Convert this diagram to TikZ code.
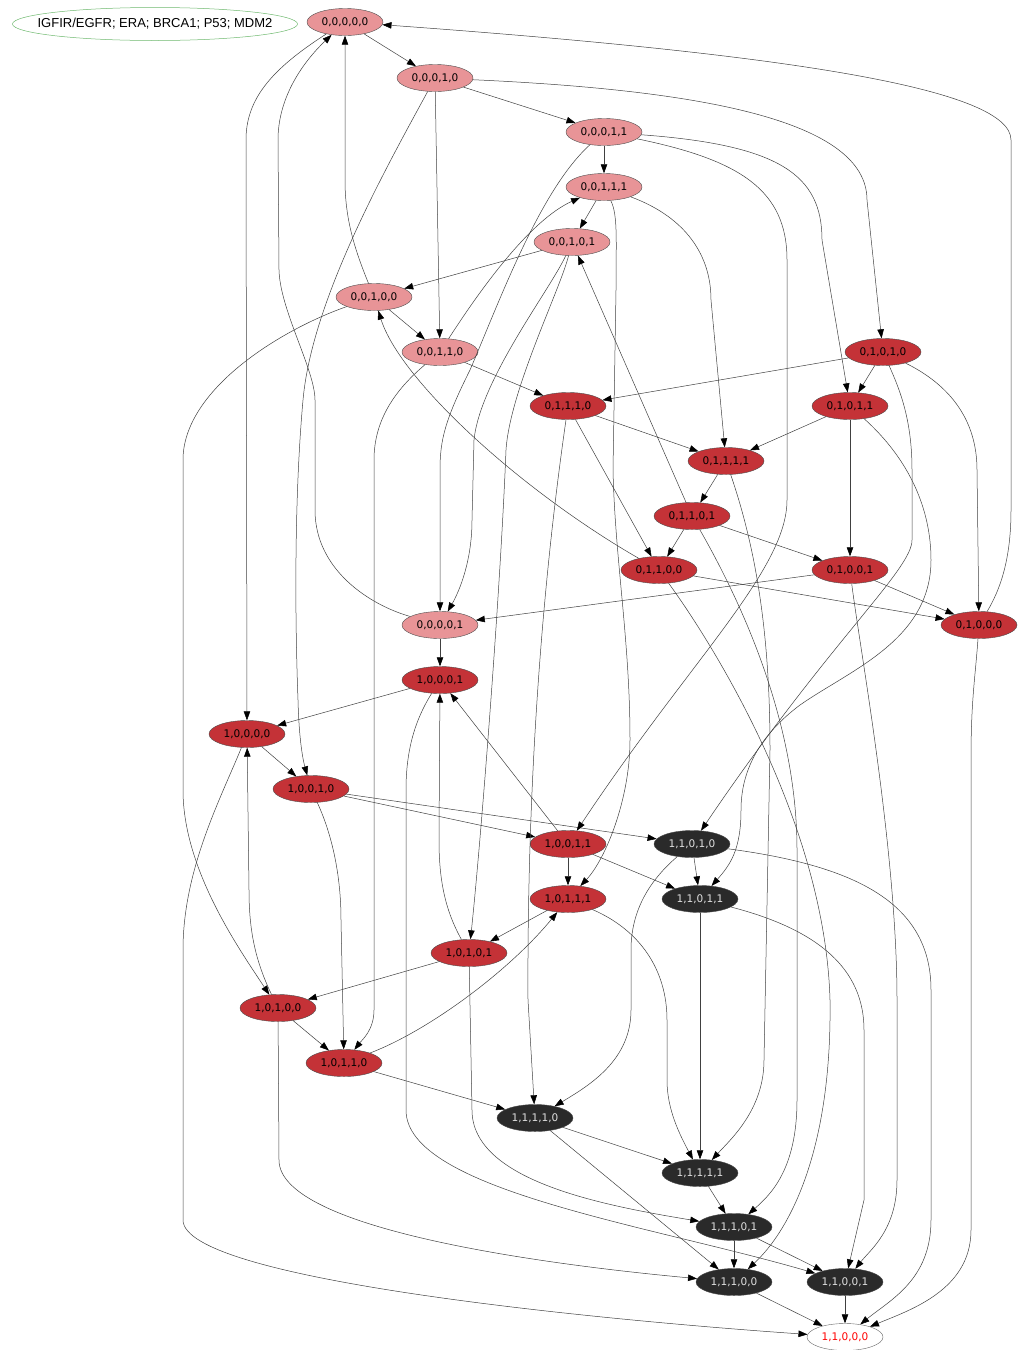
\documentclass[tikz,border=0pt]{standalone}
\usepackage{fontspec}
\setmainfont{DejaVu Sans}
\newfontfamily\keyfont{Liberation Sans}
\usepackage{tikz}
\usetikzlibrary{arrows.meta,shapes.geometric}

\definecolor{lowred}{RGB}{232,148,151}
\definecolor{midred}{RGB}{196,50,55}
\definecolor{offdark}{RGB}{42,42,42}
\definecolor{keygreen}{RGB}{110,185,110}

\begin{document}
\begin{tikzpicture}[
      x=1pt, y=-1pt,
      stnode/.style={
          ellipse, draw=black!70, line width=0.4pt,
          inner sep=0pt,
          minimum width=76pt,
          minimum height=27pt,
          font=\fontsize{10.5}{12}\selectfont
        },
      pk/.style={stnode, fill=lowred},
      rd/.style={stnode, fill=midred},
      dk/.style={stnode, fill=offdark, text=black!12},
      fin/.style={stnode, fill=white, draw=black!60, text=red},
      keynode/.style={ellipse, draw=keygreen, line width=0.5pt, inner sep=0pt,
          minimum width=285pt, minimum height=33pt,  % text box kept narrow below
          font=\keyfont\fontsize{13}{15}\selectfont},
      tr/.style={draw=black!75, line width=0.5pt,
          -{Triangle[length=9pt,width=6.5pt,color=black]}},
    ]
    \useasboundingbox (0,0) rectangle (1026,1350);

    \node[keynode] (key) at (155,24) {\makebox[0pt]{IGFIR/EGFR; ERA; BRCA1; P53; MDM2}};

    % states, top to bottom
    \node[pk] (s00000) at (345,22) {0,0,0,0,0};
    \node[pk] (s00010) at (435,78) {0,0,0,1,0};
    \node[pk] (s00011) at (604,132) {0,0,0,1,1};
    \node[pk] (s00111) at (604,187) {0,0,1,1,1};
    \node[pk] (s00101) at (572,242) {0,0,1,0,1};
    \node[pk] (s00100) at (374,297) {0,0,1,0,0};
    \node[pk] (s00110) at (440,352) {0,0,1,1,0};
    \node[rd] (s01010) at (883,352) {0,1,0,1,0};
    \node[rd] (s01110) at (568,406) {0,1,1,1,0};
    \node[rd] (s01011) at (850,406) {0,1,0,1,1};
    \node[rd] (s01111) at (726,461) {0,1,1,1,1};
    \node[rd] (s01101) at (692,516) {0,1,1,0,1};
    \node[rd] (s01100) at (659,570) {0,1,1,0,0};
    \node[rd] (s01001) at (850,570) {0,1,0,0,1};
    \node[pk] (s00001) at (440,625) {0,0,0,0,1};
    \node[rd] (s01000) at (979,625) {0,1,0,0,0};
    \node[rd] (s10001) at (440,680) {1,0,0,0,1};
    \node[rd] (s10000) at (247,734) {1,0,0,0,0};
    \node[rd] (s10010) at (311,789) {1,0,0,1,0};
    \node[rd] (s10011) at (568,844) {1,0,0,1,1};
    \node[dk] (s11010) at (692,844) {1,1,0,1,0};
    \node[rd] (s10111) at (568,899) {1,0,1,1,1};
    \node[dk] (s11011) at (700,899) {1,1,0,1,1};
    \node[rd] (s10101) at (469,953) {1,0,1,0,1};
    \node[rd] (s10100) at (278,1008) {1,0,1,0,0};
    \node[rd] (s10110) at (344,1063) {1,0,1,1,0};
    \node[dk] (s11110) at (535,1118) {1,1,1,1,0};
    \node[dk] (s11111) at (700,1173) {1,1,1,1,1};
    \node[dk] (s11101) at (734,1227) {1,1,1,0,1};
    \node[dk] (s11100) at (734,1282) {1,1,1,0,0};
    \node[dk] (s11001) at (845,1282) {1,1,0,0,1};
    \node[fin] (s11000) at (845,1337) {1,1,0,0,0};

    % short transitions
    \foreach \a/\b in {s00000/s00010, s00010/s00011, s00010/s00110, s00011/s00111,
        s00111/s00101, s00101/s00100, s00100/s00110, s00110/s01110,
        s01010/s01011, s01010/s01110, s01110/s01111, s01110/s01100, s01011/s01111,
        s01011/s01001, s01111/s01101, s01101/s01100, s01101/s01001, s01101/s00101,
        s01100/s01000, s01001/s01000, s01001/s00001, s00001/s10001, s10001/s10000,
        s10000/s10010, s10010/s10011, s10010/s11010, s10011/s10001, s10011/s10111,
        s10011/s11011, s11010/s11011, s10111/s10101, s11011/s11111, s10101/s10100,
        s10100/s10110, s10110/s11110, s11110/s11111, s11110/s11100, s11111/s11101,
        s11101/s11100, s11101/s11001, s11100/s11000, s11001/s11000}
      \draw[tr] (\a) -- (\b);

    % long transitions
    \draw[tr] (s00110) .. controls (480,290) and (530,220) .. (s00111);
    \draw[tr] (s00000) .. controls (270,70) and (246,100) .. (246,140) -- (s10000);
    \draw[tr] (s00010) .. controls (700,90) and (867,120) .. (867,200) -- (s01010);
    \draw[tr] (s00010) .. controls (385,170) and (312,300) .. (303,400) .. controls (294,500) and (295,620) .. (298,700) .. controls (299,740) and (303,760) .. (s10010);
    \draw[tr] (s00011) .. controls (540,190) and (500,300) .. (470,370) .. controls (445,420) and (440,440) .. (440,470) -- (s00001);
    \draw[tr] (s00011) .. controls (780,145) and (822,175) .. (822,240) -- (s01011);
    \draw[tr] (s00011) .. controls (740,160) and (787,190) .. (787,260) -- (787,500) .. controls (787,570) and (690,660) .. (s10011);
    \draw[tr] (s00111) .. controls (680,215) and (711,250) .. (711,300) -- (s01111);
    \draw[tr] (s00111) .. controls (618,215) and (616,240) .. (616,290) -- (613,470) .. controls (615,560) and (630,640) .. (630,740) .. controls (630,800) and (605,860) .. (s10111);
    \draw[tr] (s00101) .. controls (550,290) and (480,380) .. (474,440) -- (472,520) .. controls (472,560) and (460,590) .. (s00001);
    \draw[tr] (s00101) .. controls (560,290) and (510,390) .. (506,450) .. controls (500,600) and (480,850) .. (s10101);
    \draw[tr] (s00100) .. controls (355,250) and (345,220) .. (345,180) -- (s00000);
    \draw[tr] (s00100) .. controls (280,330) and (183,390) .. (183,460) -- (183,790) .. controls (183,870) and (240,950) .. (s10100);
    \draw[tr] (s00110) .. controls (395,390) and (374,420) .. (374,460) -- (374,1010) .. controls (374,1030) and (362,1040) .. (s10110);
    \draw[tr] (s01010) .. controls (950,385) and (977,420) .. (977,470) -- (s01000);
    \draw[tr] (s01010) .. controls (900,390) and (912,420) .. (912,470) -- (912,540) .. controls (912,570) and (830,640) .. (s11010);
    \draw[tr] (s01110) .. controls (540,600) and (527,800) .. (528,1000) -- (s11110);
    \draw[tr] (s01011) .. controls (910,460) and (931,510) .. (931,560) .. controls (931,640) and (850,670) .. (800,705) .. controls (760,735) and (741,770) .. (741,810) .. controls (741,850) and (730,865) .. (s11011);
    \draw[tr] (s01111) .. controls (760,560) and (770,650) .. (770,750) -- (764,1060) .. controls (764,1110) and (730,1140) .. (s11111);
    \draw[tr] (s01101) .. controls (740,600) and (797,720) .. (797,850) -- (797,1100) .. controls (797,1170) and (770,1195) .. (s11101);
    \draw[tr] (s01100) .. controls (520,490) and (400,380) .. (s00100);
    \draw[tr] (s01100) .. controls (710,640) and (825,820) .. (830,1000) .. controls (832,1150) and (790,1230) .. (s11100);
    \draw[tr] (s01001) .. controls (860,650) and (897,850) .. (897,1000) -- (897,1180) .. controls (897,1230) and (870,1250) .. (s11001);
    \draw[tr] (s00001) .. controls (370,605) and (315,570) .. (315,510) -- (315,400) .. controls (315,370) and (280,310) .. (279,270) -- (278,140) .. controls (278,100) and (300,65) .. (s00000);
    \draw[tr] (s01000) .. controls (1000,590) and (1011,560) .. (1011,510) -- (1011,140) .. controls (1011,90) and (800,55) .. (s00000);
    \draw[tr] (s01000) .. controls (975,680) and (971,700) .. (971,760) -- (971,1230) .. controls (971,1290) and (910,1310) .. (s11000);
    \draw[tr] (s10001) .. controls (415,720) and (406,750) .. (406,790) -- (406,1110) .. controls (406,1190) and (650,1225) .. (s11001);
    \draw[tr] (s10000) .. controls (220,800) and (183,870) .. (183,950) -- (183,1220) .. controls (183,1280) and (600,1320) .. (s11000);
    \draw[tr] (s10010) .. controls (330,830) and (341,870) .. (341,920) -- (s10110);
    \draw[tr] (s11010) .. controls (650,880) and (631,910) .. (631,950) -- (631,1010) .. controls (631,1060) and (590,1085) .. (s11110);
    \draw[tr] (s11010) .. controls (850,865) and (931,900) .. (931,990) -- (931,1220) .. controls (931,1280) and (890,1300) .. (s11000);
    \draw[tr] (s10111) .. controls (640,930) and (667,970) .. (667,1020) -- (667,1080) .. controls (667,1110) and (680,1135) .. (s11111);
    \draw[tr] (s11011) .. controls (820,930) and (864,970) .. (864,1030) -- (864,1200) -- (s11001);
    \draw[tr] (s10101) .. controls (445,910) and (439,880) .. (439,840) -- (s10001);
    \draw[tr] (s10101) -- (472,1110) .. controls (472,1180) and (600,1205) .. (s11101);
    \draw[tr] (s10100) .. controls (255,960) and (249,930) .. (249,890) -- (s10000);
    \draw[tr] (s10100) -- (279,1160) .. controls (279,1230) and (550,1265) .. (s11100);
    \draw[tr] (s10110) .. controls (430,1030) and (510,970) .. (s10111);
  \end{tikzpicture}
\end{document}
